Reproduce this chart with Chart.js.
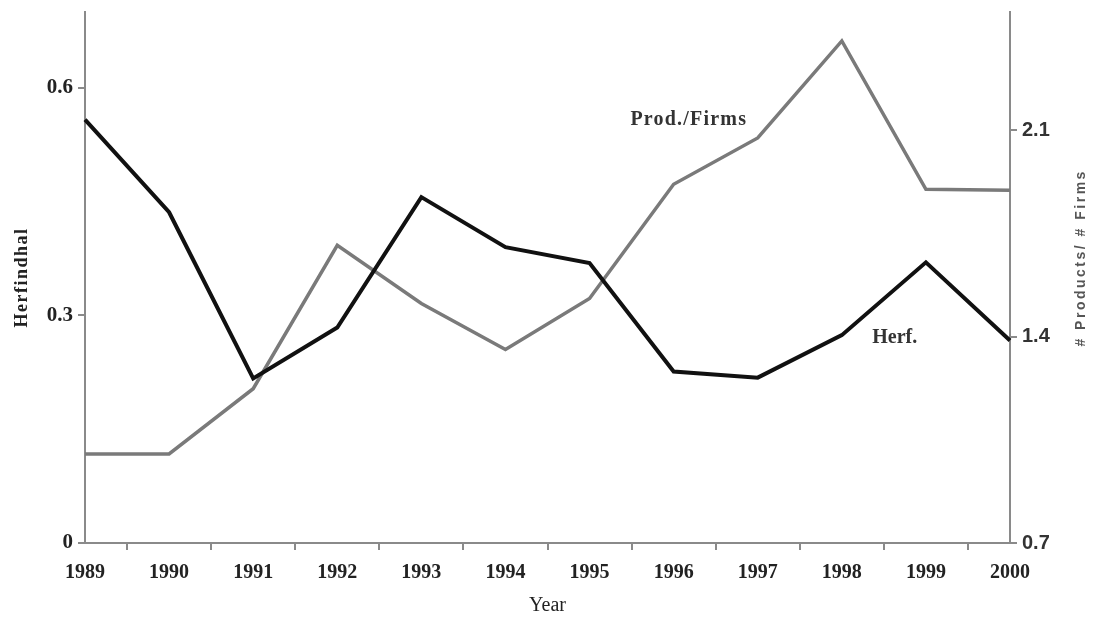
<!DOCTYPE html>
<html><head><meta charset="utf-8">
<script src="https://cdn.jsdelivr.net/npm/chart.js@4"></script>
<style>html,body{margin:0;padding:0;background:#fff}#wrap{width:1093px;height:620px}</style>
</head><body><div id="wrap"><canvas id="c"></canvas></div>
<script>
const years = ['1989','1990','1991','1992','1993','1994','1995','1996','1997','1998','1999','2000'];
const herf = [0.558,0.436,0.217,0.284,0.456,0.390,0.369,0.226,0.218,0.274,0.370,0.267];
const prodFirms = [1.002,1.002,1.223,1.709,1.512,1.356,1.529,1.916,2.073,2.402,1.899,1.896];
const leftTicks = [0, 0.3, 0.6];
const rightTicks = [0.7, 1.4, 2.1];
const leftRange = [0, 0.7];
const rightRange = [0.7, 2.5];
const labelProd = {text:'Prod./Firms', x:7.18, y:2.134, axis:'y1'};
const labelHerf = {text:'Herf.', x:9.63, y:0.271, axis:'y'};
const leftTitle = 'Herfindhal';
const rightTitle = '# Products/ # Firms';

const AX = '#8a8a8a';
const serif = '"Liberation Serif", "Times New Roman", serif';
const sans = '"Liberation Sans", Arial, sans-serif';

const annot = {
  id:'annot',
  afterDatasetsDraw(chart){
    const ctx = chart.ctx, xs = chart.scales.x, ca = chart.chartArea;
    ctx.save();
    ctx.fillStyle = '#333';
    ctx.font = 'bold 20px ' + serif;
    ctx.textAlign = 'center'; ctx.textBaseline = 'middle';
    [labelProd, labelHerf].forEach(l => {
      ctx.letterSpacing = l === labelProd ? '1.2px' : '0px';
      const px = xs.getPixelForValue(l.x);
      const py = chart.scales[l.axis].getPixelForValue(l.y);
      ctx.fillText(l.text, px, py);
    });
    ctx.restore();
    // left axis title
    ctx.save();
    ctx.translate(22, (ca.top + ca.bottom)/2);
    ctx.rotate(-Math.PI/2);
    ctx.textAlign = 'center'; ctx.textBaseline = 'middle';
    ctx.fillStyle = '#222';
    ctx.font = 'bold 18px ' + serif;
    ctx.letterSpacing = '1.5px';
    ctx.fillText(leftTitle, 0, 0);
    ctx.restore();
    // right axis title
    ctx.save();
    ctx.translate(1081, ca.top + (ca.bottom - ca.top) * 0.463);
    ctx.rotate(-Math.PI/2);
    ctx.textAlign = 'center'; ctx.textBaseline = 'middle';
    ctx.fillStyle = '#555';
    ctx.font = 'bold 14px ' + sans;
    ctx.letterSpacing = '2.5px';
    ctx.fillText(rightTitle, 0, 0);
    ctx.restore();
  }
};

new Chart(document.getElementById('c'), {
  type:'line',
  data:{
    labels: years,
    datasets:[
      {label:'Prod./Firms', data: prodFirms, yAxisID:'y1', borderColor:'#7a7a7a', borderWidth:3.5, pointRadius:0, tension:0, order:2},
      {label:'Herf.', data: herf, yAxisID:'y', borderColor:'#111', borderWidth:4, pointRadius:0, tension:0, order:1}
    ]
  },
  options:{
    responsive:true, maintainAspectRatio:false, animation:false,
    layout:{padding:{top:12,left:0,right:0,bottom:0}},
    plugins:{legend:{display:false}, tooltip:{enabled:false}},
    scales:{
      x:{
        type:'category', offset:false,
        grid:{offset:true, drawOnChartArea:false, drawTicks:true, tickLength:7, color:AX, lineWidth:2},
        border:{display:true, color:AX, width:2},
        ticks:{font:{family:serif, size:20, weight:'bold'}, color:'#222', padding:11, maxRotation:0, autoSkip:false},
        title:{display:true, text:'Year', font:{family:serif, size:20}, color:'#222', padding:{top:2,bottom:2}},
        afterFit(s){ s.height = 77; s.paddingLeft = 0; s.paddingRight = 0; }
      },
      y:{
        position:'left', min:leftRange[0], max:leftRange[1],
        afterBuildTicks(s){ s.ticks = leftTicks.map(v=>({value:v})); },
        grid:{drawOnChartArea:false, drawTicks:true, tickLength:7, color:AX, lineWidth:2},
        border:{display:true, color:AX, width:2},
        ticks:{font:{family:serif, size:21, weight:'bold'}, color:'#222', padding:5},
        afterFit(s){ s.width = 85; s.paddingTop = 0; s.paddingBottom = 0; }
      },
      y1:{
        position:'right', min:rightRange[0], max:rightRange[1],
        afterBuildTicks(s){ s.ticks = rightTicks.map(v=>({value:v})); },
        grid:{drawOnChartArea:false, drawTicks:true, tickLength:7, color:AX, lineWidth:2},
        border:{display:true, color:AX, width:2},
        ticks:{font:{family:sans, size:20, weight:'bold'}, color:'#333', padding:5},
        afterFit(s){ s.width = 83; s.paddingTop = 0; s.paddingBottom = 0; }
      }
    }
  },
  plugins:[annot]
});
</script></body></html>
